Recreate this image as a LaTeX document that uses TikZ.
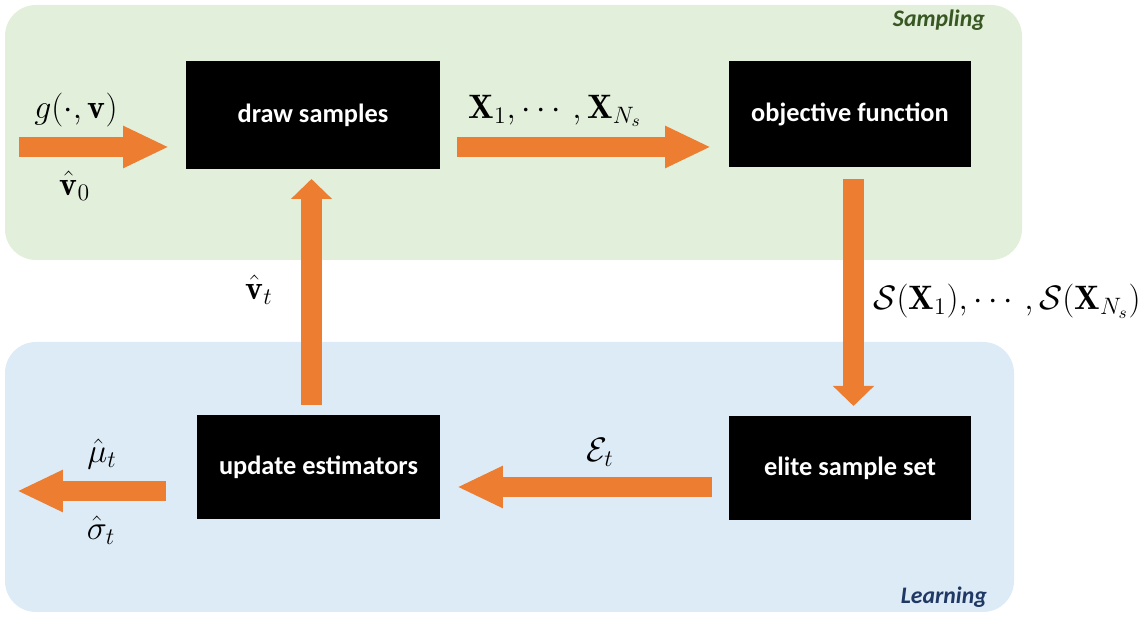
\documentclass[tikz,border=0pt]{standalone}
\usepackage{fix-cm}
\usepackage{amsmath}
\usepackage{fontspec}
\newfontfamily\carlito{Carlito}
\usetikzlibrary{arrows.meta}
\definecolor{sampbg}{HTML}{E2EFDA}
\definecolor{learnbg}{HTML}{DDEBF7}
\definecolor{flowc}{HTML}{ED7D31}
\definecolor{samptxt}{HTML}{385723}
\definecolor{learntxt}{HTML}{203864}
\tikzset{
  stepbox/.style={fill=black, text=white, inner sep=0pt,
    font=\carlito\bfseries\fontsize{15}{18}\selectfont},
  region/.style={rounded corners=0.62cm},
  regionlabel/.style={font=\carlito\bfseries\itshape\fontsize{13.5}{16}\selectfont},
  hflow/.style={draw=flowc, line width=0.4cm, -{Triangle[length=0.92cm, width=0.78cm, fill=flowc]}},
  vflow/.style={draw=flowc, line width=0.42cm, -{Triangle[length=0.4cm, width=0.8cm, fill=flowc]}},
  mlabel/.style={inner sep=0pt, font=\fontsize{19.3}{23}\selectfont},
}
\begin{document}
\begin{tikzpicture}[x=0.02cm, y=-0.02cm]
\useasboundingbox (0,0) rectangle (1147,617);
% regions
\fill[sampbg, region] (5,5) rectangle (1022,260);
\fill[learnbg, region] (5,342) rectangle (1014,612);
\node[regionlabel, text=samptxt, anchor=east] (samplbl) at (991,20) {Sampling};
\node[regionlabel, text=learntxt, anchor=east] (learnlbl) at (993,597) {Learning};
% boxes
\node[stepbox, minimum width=5.08cm, minimum height=2.16cm] (ds) at (313,115) {draw samples};
\node[stepbox, minimum width=4.84cm, minimum height=2.12cm] (of) at (850,114) {objective function};
\node[stepbox, minimum width=4.86cm, minimum height=2.08cm] (ue) at (318.5,467) {update estimators};
\node[stepbox, minimum width=4.84cm, minimum height=2.08cm] (es) at (850,468) {elite sample set};
% arrow end points
\coordinate (inS) at (19,147);
\coordinate (inE) at (169,147);
\coordinate (a2S) at (457,147);
\coordinate (a2E) at (711,147);
\coordinate (dnS) at (853.5,179);
\coordinate (dnE) at (853.5,406);
\coordinate (lfS) at (712,487);
\coordinate (lfE) at (457,487);
\coordinate (upS) at (311.5,405);
\coordinate (upE) at (311.5,179);
\coordinate (outS) at (166,491);
\coordinate (outE) at (17,491);
% arrows
\draw[hflow] (inS) -- (inE);
\draw[hflow] (a2S) -- (a2E);
\draw[vflow] (dnS) -- (dnE);
\draw[hflow] (lfS) -- (lfE);
\draw[vflow] (upS) -- (upE);
\draw[hflow] (outS) -- (outE);
% labels
\node[mlabel] (lg) at (76,110) {$g(\cdot,\mathbf{v})$};
\node[mlabel] (lv0) at (75,186) {$\hat{\mathbf{v}}_0$};
\node[mlabel] (lx) at (555,111) {$\mathbf{X}_1,\cdots,\mathbf{X}_{N_s}$};
\node[mlabel] (ls) at (1007,301) {$\mathcal{S}(\mathbf{X}_1),\cdots,\mathcal{S}(\mathbf{X}_{N_s})$};
\node[mlabel] (lvt) at (259,290) {$\hat{\mathbf{v}}_t$};
\node[mlabel] (le) at (600,452) {$\mathcal{E}_t$};
\node[mlabel] (lmu) at (102,454) {$\hat{\mu}_t$};
\node[mlabel] (lsig) at (101,530) {$\hat{\sigma}_t$};
\end{tikzpicture}
\end{document}
